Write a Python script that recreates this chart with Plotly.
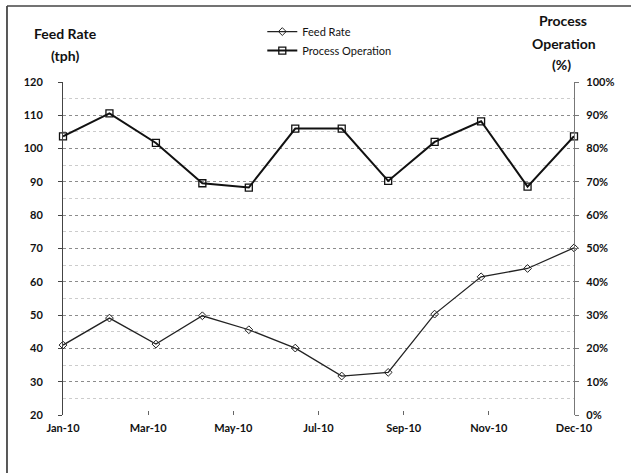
import plotly.graph_objects as go

months = ["Jan-10", "Feb-10", "Mar-10", "Apr-10", "May-10", "Jun-10",
          "Jul-10", "Aug-10", "Sep-10", "Oct-10", "Nov-10", "Dec-10"]
feed_rate = [41.0, 49.1, 41.3, 49.8, 45.6, 40.1, 31.7, 32.8, 50.3, 61.5, 64.0, 70.2]
process_operation = [83.7, 90.6, 81.7, 69.6, 68.3, 86.0, 86.0, 70.3, 82.0, 88.2, 68.6, 83.7]
tick_labels = ["Jan-10", "Mar-10", "May-10", "Jul-10", "Sep-10", "Nov-10", "Dec-10"]

x_idx = list(range(len(months)))
n_int = len(tick_labels) - 1
tick_pos = [i * (len(months) - 1) / n_int for i in range(len(tick_labels))]

FONT = "Lato"

fig = go.Figure()
fig.add_trace(go.Scatter(
    x=x_idx, y=feed_rate, name="Feed Rate", mode="lines+markers",
    customdata=months,
    line=dict(color="#222", width=1.3),
    marker=dict(symbol="diamond-open", size=6, color="#222", line=dict(width=1)),
    cliponaxis=False, yaxis="y"))
fig.add_trace(go.Scatter(
    x=x_idx, y=process_operation, name="Process Operation", mode="lines+markers",
    customdata=months,
    line=dict(color="#111", width=2),
    marker=dict(symbol="square-open", size=7, color="#111", line=dict(width=1.3)),
    cliponaxis=False, yaxis="y2"))

fig.update_layout(
    width=631, height=473,
    margin=dict(l=63, r=57, t=82, b=58, autoexpand=False),
    paper_bgcolor="white", plot_bgcolor="white",
    font=dict(family=FONT, color="#111", size=11),
    showlegend=True,
    legend=dict(x=0.390, y=1.195, xanchor="left", yanchor="top",
                orientation="v", bgcolor="rgba(0,0,0,0)",
                font=dict(family=FONT, size=11, color="#111"),
                itemwidth=30, tracegroupgap=0),
    xaxis=dict(range=[0, len(months) - 1], tickmode="array",
               tickvals=tick_pos, ticktext=tick_labels,
               showgrid=False, zeroline=False, showline=False,
               ticks="inside", ticklen=4, tickcolor="#666",
               ticklabelstandoff=5,
               tickfont=dict(family=FONT, size=11, color="#111", weight="bold")),
    yaxis=dict(range=[20, 120], dtick=10, tick0=20,
               showgrid=True, gridcolor="#8c8c8c", griddash="dot", gridwidth=1,
               minor=dict(dtick=5, showgrid=True, gridcolor="#cccccc", griddash="dot"),
               zeroline=False, showline=True, linecolor="#444", linewidth=1,
               ticks="outside", ticklen=4, tickcolor="#444",
               ticklabelstandoff=13,
               tickfont=dict(family=FONT, size=11, color="#111", weight="bold")),
    yaxis2=dict(range=[0, 100], dtick=10, overlaying="y", side="right",
                ticksuffix="%", showgrid=False, zeroline=False,
                showline=True, linecolor="#777", linewidth=1.2,
                ticks="outside", ticklen=4, tickcolor="#777",
                ticklabelstandoff=5,
                tickfont=dict(family=FONT, size=11, color="#111", weight="bold")),
)

ann_font = dict(family=FONT, size=14, color="#111", weight="bold")
for text, x, y in [("Feed Rate", 0.004, 1.147), ("(tph)", 0.004, 1.081),
                   ("Process", 0.978, 1.186), ("Operation", 0.980, 1.117),
                   ("(%)", 0.976, 1.054)]:
    fig.add_annotation(text=text, x=x, y=y, xref="paper", yref="paper",
                       xanchor="center", yanchor="middle", showarrow=False,
                       font=ann_font)

# chart-area border (left and top edges visible in reference)
fig.add_shape(type="line", xref="paper", yref="paper",
              x0=-0.1096, x1=-0.1096, y0=-0.2, y1=1.228,
              line=dict(color="#222", width=1.5))
fig.add_shape(type="line", xref="paper", yref="paper",
              x0=-0.1096, x1=1.12, y0=1.228, y1=1.228,
              line=dict(color="#444", width=1.5))

fig.write_html("out.html", config={"displayModeBar": False},
               post_script="document.body.style.margin='0';document.body.style.overflow='hidden';")
